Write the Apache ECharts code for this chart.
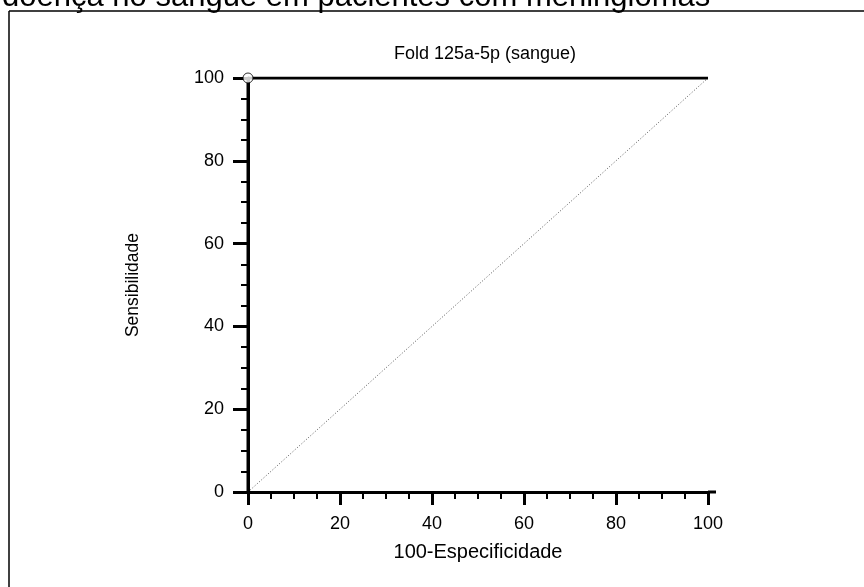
<!DOCTYPE html>
<html><head><meta charset="utf-8">
<script src="https://cdn.jsdelivr.net/npm/echarts@6/dist/echarts.min.js"></script>
<style>html,body{margin:0;padding:0;background:#fff}#c{width:864px;height:587px}</style>
</head><body><div id="c"></div>
<script>
var topText = 'doença no sangue em pacientes com meningiomas';
var chartTitle = 'Fold 125a-5p (sangue)';
var xName = '100-Especificidade';
var yName = 'Sensibilidade';
var rocX = [0, 0, 100];
var rocY = [0, 100, 100];
var diagX = [0, 100];
var diagY = [0, 100];
var pointX = [0];
var pointY = [100];
var axisMin = 0, axisMax = 100, axisStep = 20;

var F = 'Liberation Sans, Arial, sans-serif';
var chart = echarts.init(document.getElementById('c'), null, {renderer: 'canvas'});
function pairs(xs, ys){ return xs.map(function(x,i){ return [x, ys[i]]; }); }
var axisCommon = {
  type: 'value', min: axisMin, max: axisMax, interval: axisStep,
  splitLine: {show: false},
  axisLine: {show: true, onZero: false, lineStyle: {color: '#000', width: 3}},
  axisTick: {show: true, length: 13, lineStyle: {color: '#000', width: 3}},
  minorTick: {show: true, splitNumber: 4, length: 7, lineStyle: {color: '#000', width: 2}},
  axisLabel: {color: '#000', fontFamily: F, fontSize: 18}
};
chart.setOption({
  animation: false,
  backgroundColor: '#fff',
  title: {text: chartTitle, left: 480, top: 40, textAlign: 'center',
    textStyle: {fontFamily: F, fontSize: 18, fontWeight: 'normal', color: '#000'}},
  grid: {left: 248, right: 156, top: 78, bottom: 95, containLabel: false},
  xAxis: Object.assign({}, axisCommon, {
    name: xName, nameLocation: 'middle', nameGap: 50,
    nameTextStyle: {fontFamily: F, fontSize: 20, color: '#000'},
    axisLabel: Object.assign({}, axisCommon.axisLabel, {margin: 23})
  }),
  yAxis: Object.assign({}, axisCommon, {
    name: yName, nameLocation: 'middle', nameGap: 106,
    nameTextStyle: {fontFamily: F, fontSize: 17.5, color: '#000'},
    axisTick: {show: true, length: 15, lineStyle: {color: '#000', width: 3}},
    axisLabel: Object.assign({}, axisCommon.axisLabel, {margin: 24})
  }),
  series: [
    {type: 'line', data: pairs(diagX, diagY), symbol: 'none', silent: true,
      lineStyle: {color: '#555', width: 1, type: [1, 2]}, z: 2},
    {type: 'line', data: pairs(rocX, rocY), symbol: 'none', silent: true,
      lineStyle: {color: '#000', width: 3}, z: 3},
    {type: 'scatter', data: pairs(pointX, pointY), symbol: 'circle', symbolSize: 10,
      itemStyle: {color: '#fff', borderColor: '#000', borderWidth: 1}, z: 5}
  ]
});
var p0 = chart.convertToPixel({gridIndex: 0}, [axisMax, axisMin]);
chart.setOption({
  graphic: [
    {type: 'line', shape: {x1: 9, y1: 11, x2: 870, y2: 11}, style: {stroke: '#000', lineWidth: 1.5}, silent: true},
    {type: 'line', shape: {x1: 9, y1: 11, x2: 9, y2: 600}, style: {stroke: '#000', lineWidth: 1.5}, silent: true},
    {type: 'text', x: 2, y: 12.5, style: {text: topText, fontFamily: F, fontSize: 31, fill: '#000', textVerticalAlign: 'bottom'}, silent: true},
    {type: 'line', shape: {x1: p0[0], y1: p0[1], x2: p0[0] + 8, y2: p0[1]}, style: {stroke: '#000', lineWidth: 3}, silent: true}
  ]
});
</script></body></html>
